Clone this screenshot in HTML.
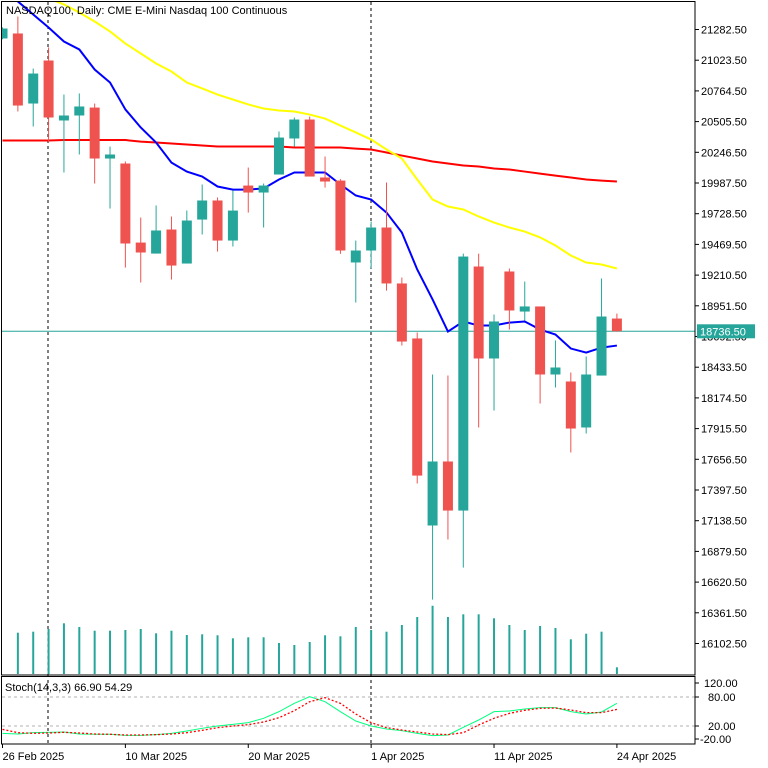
<!DOCTYPE html>
<html><head><meta charset="utf-8"><style>
html,body{margin:0;padding:0;background:#fff;}
svg{display:block;font-family:"Liberation Sans","DejaVu Sans",sans-serif;}
</style></head><body>
<svg id="chart" width="768" height="768" viewBox="0 0 768 768" xmlns="http://www.w3.org/2000/svg">
<rect x="0" y="0" width="768" height="768" fill="#fff"/>
<g id="grid"></g>
<g id="ma"></g>
<g id="candles"></g>
<g id="vol"></g>
<g id="stoch"></g>
<g id="axes"></g>
</svg>
<script>
const opens =[21207,21249,20658,21021,20515,20557,20624,20194,20152,19485,19392,19595,19308,19679,19840,19502,19966,19907,20059,20363,20523,20034,20008,19317,19418,19612,19140,18676,17098,17638,17224,19283,18507,19241,18903,18946,18372,18313,17925,18363,18844];
const highs =[21300,21392,20953,21131,20734,20743,20658,20295,20169,19696,19798,19705,19755,19975,19865,19924,20118,19983,20422,20540,20548,20211,20020,19502,19662,19992,19190,18726,18372,18363,19392,19392,18878,19266,19156,18946,18659,18389,18524,19182,18886];
const lows  =[21200,20591,20464,20329,20076,20228,19983,19772,19274,19148,19392,19173,19308,19553,19409,19452,19738,19612,20059,20295,20042,19949,19390,18979,19266,19080,18616,17452,16473,16980,16743,17925,18068,18751,18827,18127,18262,17714,17874,18363,18734];
const closes=[21291,20641,20911,20540,20557,20633,20194,20228,19477,19401,19587,19291,19671,19840,19502,19755,19907,19966,20371,20523,20042,20000,19418,19418,19612,19140,18650,17519,17638,17224,19367,18507,18819,18912,18946,18372,18431,17916,18372,18861,18736.5];
const maFast=[21603,21519,21409,21299,21181,21114,20945,20835,20608,20456,20329,20160,20084,20042,19958,19932,19932,19941,20017,20076,20076,20076,19975,19882,19848,19738,19570,19258,19005,18734,18819,18785,18785,18810,18819,18751,18709,18591,18557,18599,18616];
const maMid=[21704,21654,21603,21544,21494,21426,21350,21266,21164,21080,20996,20928,20835,20785,20734,20692,20650,20616,20599,20591,20565,20531,20472,20414,20354,20270,20194,20017,19848,19789,19764,19705,19654,19612,19578,19528,19460,19376,19317,19300,19266];
const maSlow=[20346,20346,20346,20346,20350,20350,20350,20350,20350,20337,20329,20321,20312,20304,20295,20295,20295,20295,20295,20287,20287,20287,20287,20278,20270,20245,20219,20194,20169,20152,20135,20127,20110,20101,20084,20067,20050,20034,20017,20008,20000];
const volumes=[null,165200,169200,180000,202800,188000,173200,173200,176000,180000,162800,173200,156000,158800,154800,142800,146800,146800,124000,116000,128000,154800,150800,188000,176000,169200,196000,228000,273200,228000,238800,238800,222800,196000,176000,192000,184000,138800,161200,169200,26800];
const stochK=[4.8,3.4,6.2,6.9,7.6,3.4,2.8,2.8,0.7,0.7,2.1,4.8,9.7,15.2,20,23.4,26.9,35.9,49.7,66.9,80.7,70.3,49.7,30.3,20,13.8,10.3,4.8,0,1.4,17.2,32.4,49.7,51,55.2,57.9,57.9,49.7,44.8,49,66.9];
const stochD=[13.1,6.2,4.8,5.5,6.9,5.5,3.4,2.8,1.4,1.4,2.1,3.4,6.2,11,16.6,20,22.8,28.3,37.2,51.7,70.3,78.6,66.9,44.8,26.9,16.6,11.7,7.6,3.4,2.1,6.2,22.1,35.9,46.2,52.4,56.6,57.2,53.1,47.6,47.6,54.29];
const priceTicks=[21282.50,21023.50,20764.50,20505.50,20246.50,19987.50,19728.50,19469.50,19210.50,18951.50,18692.50,18433.50,18174.50,17915.50,17656.50,17397.50,17138.50,16879.50,16620.50,16361.50,16102.50];
const stochTicks=[120,80,20,-20];
const dateLabels=["26 Feb 2025","10 Mar 2025","20 Mar 2025","1 Apr 2025","11 Apr 2025","24 Apr 2025"];
const dateIdx=[0,8,16,24,32,40];
const lastPrice=18736.5;

const NS="http://www.w3.org/2000/svg";
const X=i=>2.5+15.36*i;
const Y=p=>29.5+(21282.5-p)*614/5180;
const VY=v=>674-v/4000;
const SY=v=>697-(v-80)*0.4833;
function mk(tag,attrs,parent){const e=document.createElementNS(NS,tag);for(const k in attrs)e.setAttribute(k,attrs[k]);parent.appendChild(e);return e;}
const gC=document.getElementById('candles'),gM=document.getElementById('ma'),gV=document.getElementById('vol'),gS=document.getElementById('stoch'),gA=document.getElementById('axes'),gG=document.getElementById('grid');

const defs=mk('defs',{},document.getElementById('chart'));
const cp=mk('clipPath',{id:'mainclip'},defs);mk('rect',{x:2,y:2,width:693,height:673},cp);
gM.setAttribute('clip-path','url(#mainclip)');gC.setAttribute('clip-path','url(#mainclip)');

const pl=mk('line',{x1:2,x2:695,y1:Y(lastPrice),y2:Y(lastPrice),stroke:'#26a69a','stroke-width':1},gG);



[48,371].forEach(x=>{const l=mk('line',{x1:x,x2:x,y1:2,y2:744,stroke:'#000','stroke-dasharray':'3,3','stroke-width':1},gG);

});

for(let i=0;i<opens.length;i++){
  const up=closes[i]>=opens[i];const col=up?'#26a69a':'#ef5350';
  const g=mk('g',{},gC);
  
  
  mk('line',{x1:X(i),x2:X(i),y1:Y(highs[i]),y2:Y(lows[i]),stroke:col,'stroke-width':1},g);
  const t=Y(Math.max(opens[i],closes[i])),b=Y(Math.min(opens[i],closes[i]));
  mk('rect',{x:X(i)-5,y:t,width:10,height:Math.max(1.5,b-t),fill:col},g);
}
function line(arr,col,name,w,dash){
  const p=mk('polyline',{points:arr.map((v,i)=>X(i)+','+(name.startsWith('stoch')?SY(v):Y(v))).join(' '),fill:'none',stroke:col,'stroke-width':w},name.startsWith('stoch')?gS:gM);
  if(dash)p.setAttribute('stroke-dasharray',dash);
  
  
}
line(maSlow,'#ff0000','ma-slow-red',2);
line(maMid,'#ffff00','ma-mid-yellow',2);
line(maFast,'#0000ff','ma-fast-blue',2);

for(let i=0;i<volumes.length;i++){if(volumes[i]==null)continue;
  const r=mk('line',{x1:X(i),x2:X(i),y1:VY(volumes[i]),y2:674,stroke:'#26a69a','stroke-width':2},gV);
  
  }

[80,20].forEach(v=>{const l=mk('line',{x1:2,x2:695,y1:SY(v),y2:SY(v),stroke:'#b0b0b0','stroke-dasharray':'3,3'},gS);

});
line(stochK,'#00ff7f','stoch-main-line',1);
line(stochD,'#ff0000','stoch-signal-line',1.3,'2,2');

const fr=mk('rect',{x:1.5,y:1.5,width:693.5,height:673.5,fill:'none',stroke:'#000'},gA);


const fr2=mk('rect',{x:1.5,y:676.5,width:693.5,height:67.5,fill:'none',stroke:'#000'},gA);



priceTicks.forEach(p=>{const y=Y(p);
  mk('line',{x1:695,x2:699,y1:y,y2:y,stroke:'#000'},gA);
  const t=mk('text',{x:701,y:y+4,'font-size':11,fill:'#000'},gA);t.textContent=p.toFixed(2);
  
  });
const bx=mk('rect',{x:697,y:Y(lastPrice)-7,width:58,height:14,fill:'#26a69a'},gA);


const bt=mk('text',{x:700,y:Y(lastPrice)+4,'font-size':11,fill:'#fff'},gA);bt.textContent=lastPrice.toFixed(2);



stochTicks.forEach(v=>{let y=SY(v);if(v===120)y=683;if(v===-20)y=739;
  mk('line',{x1:695,x2:699,y1:y,y2:y,stroke:'#000'},gA);
  const t=mk('text',{x:v<0?700:(v>=100?704:708),y:y+4,'font-size':11,fill:'#000'},gA);t.textContent=v.toFixed(2);
  
  });

dateLabels.forEach((d,k)=>{const x=X(dateIdx[k]);
  mk('line',{x1:x,x2:x,y1:744,y2:748,stroke:'#000'},gA);
  const t=mk('text',{x:Math.max(2,x),y:760,'font-size':11,fill:'#000'},gA);t.textContent=d;
  
  });

const title=mk('text',{x:6,y:14,'font-size':11,fill:'#000'},gA);title.textContent='NASDAQ100, Daily:  CME E-Mini Nasdaq 100 Continuous';


const st=mk('text',{x:5,y:691,'font-size':11,fill:'#000'},gA);st.textContent='Stoch(14,3,3) 66.90 54.29';


</script>
</body></html>
